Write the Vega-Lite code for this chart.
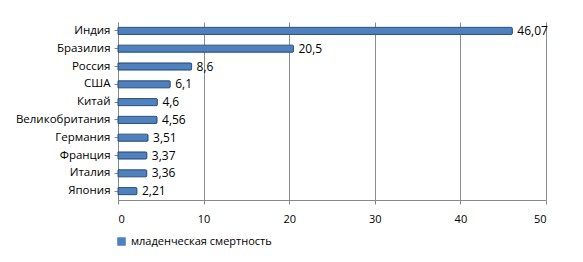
{
  "$schema": "https://vega.github.io/schema/vega-lite/v6.json",
  "autosize": {"type": "none"},
  "width": 428,
  "height": 178,
  "padding": {"left": 118, "top": 22, "right": 37, "bottom": 62},
  "background": "white",
  "config": {
    "font": "Open Sans",
    "view": {"stroke": null},
    "axis": {"labelFont": "Open Sans", "labelColor": "#000", "labelFontSize": 11}
  },
  "data": {
    "values": [
      {"country": "Индия", "value": 46.07, "label": "46,07", "series": "младенческая смертность"},
      {"country": "Бразилия", "value": 20.5, "label": "20,5", "series": "младенческая смертность"},
      {"country": "Россия", "value": 8.6, "label": "8,6", "series": "младенческая смертность"},
      {"country": "США", "value": 6.1, "label": "6,1", "series": "младенческая смертность"},
      {"country": "Китай", "value": 4.6, "label": "4,6", "series": "младенческая смертность"},
      {"country": "Великобритания", "value": 4.56, "label": "4,56", "series": "младенческая смертность"},
      {"country": "Германия", "value": 3.51, "label": "3,51", "series": "младенческая смертность"},
      {"country": "Франция", "value": 3.37, "label": "3,37", "series": "младенческая смертность"},
      {"country": "Италия", "value": 3.36, "label": "3,36", "series": "младенческая смертность"},
      {"country": "Япония", "value": 2.21, "label": "2,21", "series": "младенческая смертность"}
    ]
  },
  "encoding": {
    "y": {
      "field": "country", "type": "nominal", "sort": null, "title": null,
      "scale": {"paddingInner": 0.6, "paddingOuter": 0.3},
      "axis": {"domainColor": "#888", "tickColor": "#888", "tickSize": 4, "labelPadding": 4, "labelFontSize": 11.5}
    }
  },
  "layer": [
    {
      "mark": {"type": "bar", "color": "#4F81BD", "stroke": "#2F5586", "strokeWidth": 1, "cornerRadiusEnd": 1},
      "encoding": {
        "x": {
          "field": "value", "type": "quantitative", "title": null,
          "scale": {"domain": [0, 50], "nice": false},
          "axis": {"values": [0, 10, 20, 30, 40, 50], "grid": true, "gridColor": "#8c8c8c", "domainColor": "#888", "tickColor": "#888", "tickSize": 4, "labelPadding": 9, "labelFontSize": 11}
        },
        "color": {
          "field": "series", "type": "nominal",
          "scale": {"range": ["#4F81BD"]},
          "legend": {"title": null, "orient": "none", "legendX": -2, "legendY": 214, "symbolType": "square", "symbolSize": 50, "symbolStrokeColor": "#4F81BD", "labelFontSize": 11, "labelFont": "Open Sans", "labelColor": "#000"}
        }
      }
    },
    {
      "mark": {"type": "text", "align": "left", "dx": 5, "fontSize": 12, "font": "Open Sans", "color": "#000"},
      "encoding": {
        "x": {"field": "value", "type": "quantitative"},
        "text": {"field": "label"}
      }
    }
  ]
}
